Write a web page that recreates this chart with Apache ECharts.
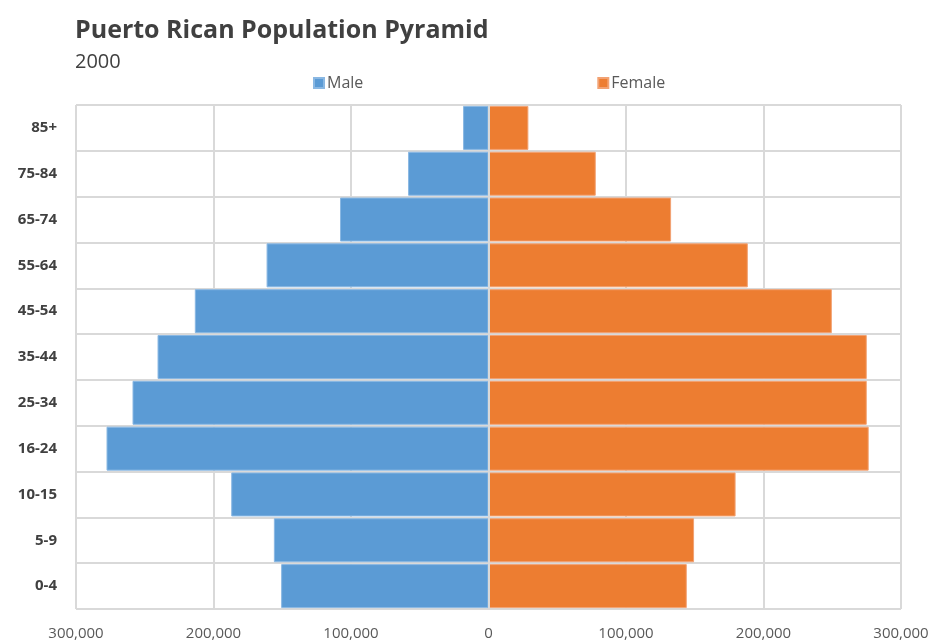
<!DOCTYPE html>
<html>
<head>
<meta charset="utf-8">
<script src="https://cdn.jsdelivr.net/npm/echarts@6/dist/echarts.min.js"></script>
<style>html,body{margin:0;padding:0;background:#fff}#c{width:935px;height:644px}</style>
</head>
<body>
<div id="c"></div>
<script>
var categories = ['0-4','5-9','10-15','16-24','25-34','35-44','45-54','55-64','65-74','75-84','85+'];
var maleValues = [150800,156100,187100,277800,258900,240700,213600,161400,108000,58500,18500];
var femaleValues = [144200,149500,179700,276500,275100,275100,249700,188600,132800,78000,29000];
var xTicks = [-300000,-200000,-100000,0,100000,200000,300000];

var FONT = "'Open Sans', 'Noto Sans', sans-serif";
var chart = echarts.init(document.getElementById('c'));
chart.setOption({
  animation: false,
  textStyle: { fontFamily: FONT },
  title: {
    text: 'Puerto Rican Population Pyramid',
    subtext: '2000',
    left: 70, top: 13,
    itemGap: 9,
    textStyle: { fontFamily: FONT, fontSize: 25, fontWeight: 'bold', color: '#404040' },
    subtextStyle: { fontFamily: FONT, fontSize: 20, color: '#404040' }
  },
  legend: {
    data: ['Male', 'Female'],
    left: 308, top: 70,
    itemWidth: 10, itemHeight: 10, itemGap: 234,
    icon: 'rect',
    textStyle: { fontFamily: FONT, fontSize: 16, color: '#595959', padding: [0,0,0,-2] }
  },
  grid: { left: 76, right: 34, top: 105, bottom: 35, containLabel: false },
  xAxis: {
    type: 'value',
    min: xTicks[0], max: xTicks[xTicks.length-1], interval: 100000,
    axisLine: { show: false },
    axisTick: { show: false },
    axisLabel: {
      color: '#595959', fontSize: 15, margin: 17,
      formatter: function (v) { return Math.abs(v).toLocaleString('en-US'); }
    },
    splitLine: { show: true, lineStyle: { color: '#d9d9d9', width: 2 } }
  },
  yAxis: {
    type: 'category',
    data: categories,
    axisLine: { show: true, lineStyle: { color: '#d9d9d9', width: 2 } },
    axisTick: { show: false },
    axisLabel: { color: '#404040', fontSize: 15, fontWeight: 'bold', margin: 19 },
    splitLine: { show: true, lineStyle: { color: '#d9d9d9', width: 2 } }
  },
  series: [
    {
      name: 'Male', type: 'bar', stack: 'pop',
      data: maleValues.map(function (v) { return -v; }),
      barCategoryGap: '4%',
      itemStyle: { color: '#5b9bd5', borderColor: '#8ab8e3', borderWidth: 1 },
      markLine: {
        silent: true, symbol: 'none', label: { show: false },
        lineStyle: { color: '#d9d9d9', type: 'solid', width: 2 },
        data: [{ xAxis: 0 }]
      }
    },
    {
      name: 'Female', type: 'bar', stack: 'pop',
      data: femaleValues,
      barCategoryGap: '4%',
      itemStyle: { color: '#ed7d31', borderColor: '#f2a273', borderWidth: 1 }
    }
  ]
});
</script>
</body>
</html>
